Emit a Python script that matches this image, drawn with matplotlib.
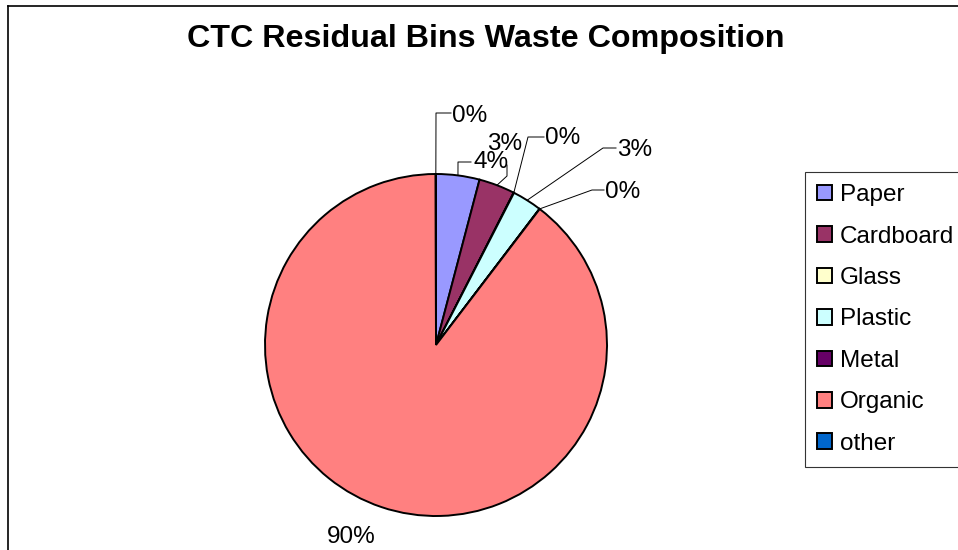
import matplotlib
matplotlib.use("Agg")
import matplotlib.pyplot as plt
from matplotlib.lines import Line2D
import numpy as np

# waste composition (%)
categories = ["Paper", "Cardboard", "Glass", "Plastic", "Metal", "Organic", "other"]
shares = [4.1, 3.4, 0.04, 2.8, 0.03, 89.6, 0.03]
colors = ["#9999FF", "#993366", "#FFFFCC", "#CCFFFF", "#660066", "#FF8080", "#0066CC"]

W, H = 958, 550
CX, CY, R = 436, 345, 171  # pie centre / radius in pixels

# leader line bends and label spots (pixels): points after the arc anchor, text x, text centre y, ha
label_layout = [
    ([(458, 162), (471, 162)], 473, 160, "left"),
    ([(507, 176), (507, 165)], 505, 142, "center"),
    ([(528, 137), (544, 137)], 545, 135, "left"),
    ([(603, 148), (616, 148)], 617, 148, "left"),
    ([(592, 190), (604, 190)], 605, 189, "left"),
    ([], 351, 534.5, "center"),
    ([(436, 113), (451, 113)], 452, 113, "left"),
]

plt.rcParams["font.family"] = ["Liberation Sans", "DejaVu Sans"]


def px2data(px, py):
    return (px - CX) / R, (CY - py) / R


def main():
    fig = plt.figure(figsize=(W / 100, H / 100), dpi=100)
    ax = fig.add_axes([(CX - R) / W, (H - CY - R) / H, 2 * R / W, 2 * R / H])
    wedges, _ = ax.pie(shares, colors=colors, startangle=90, counterclock=False,
                       radius=1, wedgeprops=dict(edgecolor="black", linewidth=1.4))
    ax.set_xlim(-1, 1)
    ax.set_ylim(-1, 1)
    ax.axis("off")

    total = sum(shares)
    for w, v, (pts, tx, ty, ha) in zip(wedges, shares, label_layout):
        mid = np.deg2rad((w.theta1 + w.theta2) / 2)
        if pts:
            xs = [np.cos(mid)] + [px2data(*p)[0] for p in pts]
            ys = [np.sin(mid)] + [px2data(*p)[1] for p in pts]
            ax.plot(xs, ys, color="black", lw=0.7, clip_on=False)
        x, y = px2data(tx, ty + 8.5)
        ax.text(x, y, f"{v / total * 100:.0f}%", ha=ha, va="baseline",
                fontsize=17.5, clip_on=False)

    fig.text(486 / W, 1 - 47 / H, "CTC Residual Bins Waste Composition",
             ha="center", va="baseline", fontsize=23.2, fontweight="bold")

    leg = fig.legend(wedges, categories, loc="upper left",
                     bbox_to_anchor=(805 / W, 1 - 172 / H), borderaxespad=0,
                     fontsize=17.5, handlelength=0.62, handleheight=0.62,
                     handletextpad=0.33, labelspacing=0.8, borderpad=0.5,
                     fancybox=False, framealpha=1)
    leg.get_frame().set_edgecolor("#333333")
    leg.get_frame().set_linewidth(0.8)

    # chart area border (left and top edges show)
    fig.add_artist(Line2D([8 / W, 8 / W], [0, 1 - 6 / H], color="black", lw=1.2))
    fig.add_artist(Line2D([8 / W, 1], [1 - 6 / H, 1 - 6 / H], color="black", lw=1.2))

    fig.savefig("out.png", dpi=100)


if __name__ == "__main__":
    main()
